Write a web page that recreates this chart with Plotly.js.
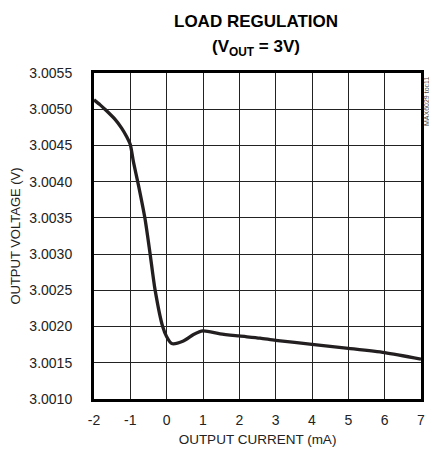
<!DOCTYPE html>
<html>
<head>
<meta charset="utf-8">
<script src="https://cdn.plot.ly/plotly-3.0.1.min.js"></script>
<style>html,body{margin:0;padding:0;background:#fff}#chart{width:429px;height:456px}</style>
</head>
<body>
<div id="chart"></div>
<script>
// Output current (mA)
var currentMA = [-2, -1.83, -1.70, -1.42, -1.24, -1.10, -1.0, -0.917, -0.78, -0.6, -0.46, -0.32, -0.11, 0.0, 0.14, 0.46, 0.74, 1.0, 1.47, 2.0, 2.57, 3, 4, 5, 6, 7];
// Output voltage (V)
var outputV = [3.00513, 3.00506, 3.00500, 3.00486, 3.00474, 3.00462, 3.00451, 3.00428, 3.00396, 3.00350, 3.00302, 3.00251, 3.00200, 3.00186, 3.001765, 3.00180, 3.00189, 3.00194, 3.00190, 3.00187, 3.00184, 3.00181, 3.001755, 3.00170, 3.00164, 3.00155];
var xTicks = [-2, -1, 0, 1, 2, 3, 4, 5, 6, 7];
var yTicks = [3.0010, 3.0015, 3.0020, 3.0025, 3.0030, 3.0035, 3.0040, 3.0045, 3.0050, 3.0055];
var yTickText = ["3.0010", "3.0015", "3.0020", "3.0025", "3.0030", "3.0035", "3.0040", "3.0045", "3.0050", "3.0055"];
var titleLines = ["LOAD REGULATION", "(V<sub>OUT</sub> = 3V)"];

var font = "Liberation Sans, Arial, sans-serif";

var trace = {
  x: currentMA, y: outputV, type: "scatter", mode: "lines",
  line: {color: "#231f20", width: 3.3, shape: "spline", smoothing: 0.7},
  hoverinfo: "skip"
};

var layout = {
  width: 429, height: 456,
  margin: {l: 94, r: 8, t: 73, b: 57},
  paper_bgcolor: "#fff", plot_bgcolor: "#fff",
  showlegend: false,
  xaxis: {
    range: [-2, 7], tickvals: xTicks, ticktext: xTicks.map(String),
    showgrid: true, gridcolor: "#222", gridwidth: 1,
    zeroline: false, showline: true, mirror: true, linecolor: "#000", linewidth: 3,
    ticks: "", ticklabelstandoff: 6,
    tickfont: {family: font, size: 14, color: "#222"},
    title: {text: "OUTPUT CURRENT (mA)", font: {family: font, size: 13.5, color: "#222"}, standoff: 8}
  },
  yaxis: {
    range: [3.0010, 3.0055], tickvals: yTicks, ticktext: yTickText,
    showgrid: true, gridcolor: "#222", gridwidth: 1,
    zeroline: false, showline: true, mirror: true, linecolor: "#000", linewidth: 3,
    ticks: "", ticklabelstandoff: 16,
    tickfont: {family: font, size: 14, color: "#222"},
    title: {text: "OUTPUT VOLTAGE (V)", font: {family: font, size: 13, color: "#222"}, standoff: 6}
  },
  annotations: [
    {text: "<b>" + titleLines[0] + "</b>", xref: "paper", yref: "paper", x: 0.494, y: 1.1595,
     xanchor: "center", yanchor: "middle", showarrow: false,
     font: {family: font, size: 17, color: "#000"}},
    {text: "<b>" + titleLines[1] + "</b>", xref: "paper", yref: "paper", x: 0.494, y: 1.0767,
     xanchor: "center", yanchor: "middle", showarrow: false,
     font: {family: font, size: 17, color: "#000"}},
    {text: "MAX6029 toc11", xref: "paper", yref: "paper", x: 1.0, y: 1.0,
     xanchor: "left", yanchor: "top", xshift: 0, yshift: -2, textangle: -90, showarrow: false,
     font: {family: font, size: 7, color: "#444"}}
  ]
};

Plotly.newPlot("chart", [trace], layout, {staticPlot: true, displayModeBar: false});
</script>
</body>
</html>
